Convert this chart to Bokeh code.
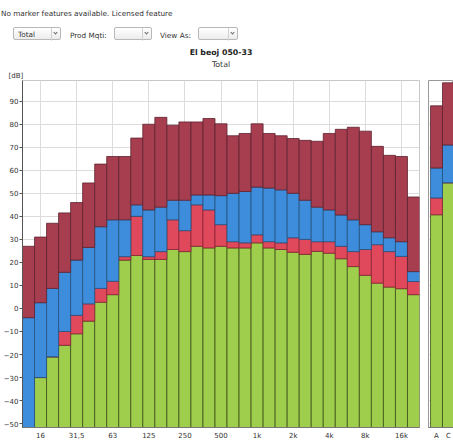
from bokeh.plotting import figure
from bokeh.models import Div, Title, FixedTicker, Range1d, ColumnDataSource
from bokeh.layouts import column, row
from bokeh.embed import file_html
from bokeh.resources import INLINE

# ---- data -------------------------------------------------------------
bands = ["12.5", "16", "20", "25", "31.5", "40", "50", "63", "80", "100", "125",
         "160", "200", "250", "315", "400", "500", "630", "800", "1k", "1.25k",
         "1.6k", "2k", "2.5k", "3.15k", "4k", "5k", "6.3k", "8k", "10k", "12.5k",
         "16k", "20k"]
tick_labels = {"16": "16", "31.5": "31,5", "63": "63", "125": "125", "250": "250",
               "500": "500", "1k": "1k", "2k": "2k", "4k": "4k", "8k": "8k", "16k": "16k"}
y_ticks = [-50, -40, -30, -20, -10, 0, 10, 20, 30, 40, 50, 60, 70, 80, 90]

# cumulative levels (top of each coloured layer), dB
green = [-51.7, -30, -21, -16, -11, -5.5, 2.7, 6, 21, 23, 21.3, 21.3, 25.6, 24.7, 27,
         26.3, 27, 26.3, 26.3, 28.5, 26.3, 25.6, 24.4, 23.5, 24.8, 24, 21.6, 18.2,
         14.4, 11, 9.3, 8.6, 6]
red = [-51.7, -30, -21, -10, -3, 2, 8.7, 11.8, 22.5, 40, 22.5, 24.7, 38.5, 33.8, 45,
       42.8, 36.4, 29, 28.5, 32, 29, 28.5, 30.7, 30, 29, 29, 27, 24.7, 25.6, 27.7,
       24.7, 22.6, 11.7]
blue = [-4, 2.5, 8.7, 15.7, 21, 26.5, 35.5, 38.5, 38.5, 45, 42.8, 44, 47, 47, 49.3,
        49.3, 49, 50, 50.8, 52.7, 52.3, 51.5, 50, 47, 44, 42.8, 40.6, 38.5, 36.4,
        33.3, 30.7, 29, 16]
total = [27, 31, 37, 41.5, 46, 54.5, 62.7, 66, 66, 74, 80, 83, 79.6, 81, 81, 82.5,
         80.2, 75, 76, 80.2, 76, 75, 73.8, 73, 72.6, 76, 77.8, 78.7, 77, 70.4, 66.5,
         66, 48.4]

weights = ["A", "C"]
w_green = [40.7, 54.6]
w_red = [48, 54.6]
w_blue = [61, 71]
w_total = [88, 98]

Y_MIN, Y_MAX = -51.7, 99
FONT = "DejaVu Sans"
C_GREEN, C_RED, C_BLUE, C_DRED = "#9fcd4c", "#e0485c", "#3d8ddc", "#a63e4f"
L_GREEN, L_RED, L_BLUE, L_DRED = "#3e5218", "#8a2434", "#24507e", "#5e2230"

# ---- header (status text + dropdowns) --------------------------------
def box(left, w, txt=""):
    return (f'<div style="position:absolute;left:{left}px;top:27px;width:{w}px;height:13px;'
            f'border:1px solid #b8b8b8;border-radius:2px;background:linear-gradient(#ffffff,#ececec);">'
            f'<span style="position:absolute;left:4px;top:2px;">{txt}</span>'
            f'<span style="position:absolute;right:0px;top:0px;width:9px;height:13px;border-left:1px solid #d0d0d0;"></span>'
            f'<span style="position:absolute;right:3px;top:3px;width:3px;height:3px;border-right:1px solid #666;'
            f'border-bottom:1px solid #666;transform:rotate(45deg);"></span></div>')

header_html = (
    f'<div style="position:relative;width:453px;height:40px;font-family:\'{FONT}\';font-size:7.3px;color:#333;">'
    '<div style="position:absolute;left:1px;top:9px;">No marker features available. Licensed feature</div>'
    + box(13, 48, "Total")
    + '<div style="position:absolute;left:70px;top:31px;">Prod Mqti:</div>'
    + box(114, 38)
    + '<div style="position:absolute;left:160px;top:31px;">View As:</div>'
    + box(198, 40)
    + '</div>'
)
header = Div(text=header_html, width=453, height=40, margin=(0, 0, 0, 0))

# ---- main spectrum chart -----------------------------------------------
n = len(bands)
xs = list(range(n))
src = ColumnDataSource(dict(x=xs, floor=[Y_MIN] * n, green=green, red=red,
                            blue=blue, total=total))

p = figure(width=424, height=402, x_range=Range1d(-0.5, n - 0.5),
           y_range=Range1d(Y_MIN, Y_MAX), output_backend="svg",
           toolbar_location=None, title=None, min_border_left=21,
           min_border_right=5, min_border_top=40, min_border_bottom=0,
           margin=(0, 0, 0, 0), outline_line_color="#c8c8c8")

bar_kw = dict(x="x", width=1.0, source=src, line_width=0.8)
p.vbar(bottom="floor", top="green", fill_color=C_GREEN, line_color=L_GREEN, **bar_kw)
p.vbar(bottom="green", top="red", fill_color=C_RED, line_color=L_RED, **bar_kw)
p.vbar(bottom="red", top="blue", fill_color=C_BLUE, line_color=L_BLUE, **bar_kw)
p.vbar(bottom="blue", top="total", fill_color=C_DRED, line_color=L_DRED, **bar_kw)

p.add_layout(Title(text="[dB]", align="left", offset=-14, text_font=FONT,
                   text_font_size="7px", text_font_style="normal",
                   text_color="#333333", standoff=1), "above")
p.add_layout(Title(text="Total", align="center", offset=10, text_font=FONT,
                   text_font_size="7.8px", text_font_style="normal",
                   text_color="#333333", standoff=2), "above")
p.add_layout(Title(text="El beoj 050-33", align="center", offset=10, text_font=FONT,
                   text_font_size="7.8px", text_font_style="bold",
                   text_color="#222222", standoff=0), "above")

tick_pos = [bands.index(k) for k in tick_labels]
p.xaxis.ticker = FixedTicker(ticks=tick_pos)
p.xaxis.major_label_overrides = {bands.index(k): v for k, v in tick_labels.items()}
p.yaxis.ticker = FixedTicker(ticks=y_ticks)

p.xaxis.major_tick_out = 0
p.xaxis.major_tick_in = 0
p.xaxis.minor_tick_out = 0
p.xaxis.axis_line_color = "#777777"
p.xaxis.major_label_text_font = FONT
p.xaxis.major_label_text_font_size = "7px"
p.xaxis.major_label_text_color = "#333333"
p.xaxis.major_label_standoff = 4

p.yaxis.major_tick_out = 3
p.yaxis.major_tick_in = 0
p.yaxis.minor_tick_out = 0
p.yaxis.minor_tick_in = 0
p.yaxis.axis_line_color = "#555555"
p.yaxis.major_tick_line_color = "#555555"
p.yaxis.major_label_text_font = FONT
p.yaxis.major_label_text_font_size = "7px"
p.yaxis.major_label_text_color = "#333333"
p.yaxis.major_label_standoff = 1
p.grid.grid_line_color = "#dcdcdc"

# ---- weighted totals panel (A / C) ---------------------------------------
wsrc = ColumnDataSource(dict(x=[0, 1], floor=[Y_MIN] * 2, green=w_green, red=w_red,
                             blue=w_blue, total=w_total))
s = figure(width=29, height=402, x_range=Range1d(-0.67, 1.42), y_range=p.y_range,
           output_backend="svg", toolbar_location=None, title=None,
           min_border_left=4, min_border_right=0, min_border_top=40,
           min_border_bottom=0, margin=(0, 0, 0, 0), outline_line_color="#999999")
wkw = dict(x="x", width=1.0, source=wsrc, line_width=0.8)
s.vbar(bottom="floor", top="green", fill_color=C_GREEN, line_color=L_GREEN, **wkw)
s.vbar(bottom="green", top="red", fill_color=C_RED, line_color=L_RED, **wkw)
s.vbar(bottom="red", top="blue", fill_color=C_BLUE, line_color=L_BLUE, **wkw)
s.vbar(bottom="blue", top="total", fill_color=C_DRED, line_color=L_DRED, **wkw)
s.yaxis.visible = False
s.xaxis.ticker = FixedTicker(ticks=[0, 1])
s.xaxis.major_label_overrides = {i: w for i, w in enumerate(weights)}
s.xaxis.major_tick_out = 0
s.xaxis.major_tick_in = 0
s.xaxis.minor_tick_out = 0
s.xaxis.axis_line_color = "#777777"
s.xaxis.major_label_text_font = FONT
s.xaxis.major_label_text_font_size = "7px"
s.xaxis.major_label_text_color = "#333333"
s.xaxis.major_label_standoff = 4
s.ygrid.ticker = FixedTicker(ticks=y_ticks)
s.xgrid.visible = False
s.grid.grid_line_color = "#dcdcdc"

layout = column(header, row(p, s, spacing=0, margin=(0, 0, 0, 0)), spacing=0,
                margin=(0, 0, 0, 0))

open("out.html", "w").write(file_html(layout, INLINE))
